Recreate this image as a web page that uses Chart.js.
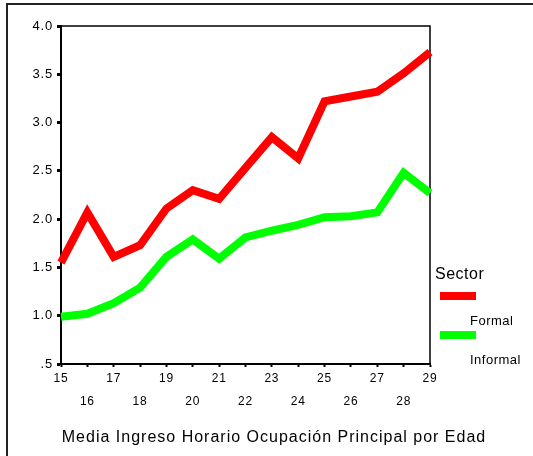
<!DOCTYPE html>
<html>
<head>
<meta charset="utf-8">
<script src="https://cdn.jsdelivr.net/npm/chart.js@4"></script>
<style>
    body { margin: 0; background: #fff; }
    #wrap { position: relative; width: 533px; height: 456px; overflow: hidden; }
    #frame { position: absolute; left: 6px; top: 3px; width: 600px; height: 500px; border-left: 2px solid #222; border-top: 2px solid #222; }
    canvas { position: absolute; left: 0; top: 0; }
</style>
</head>
<body>
<div id="wrap">
    <div id="frame"></div>
    <canvas id="myChart" width="533" height="456"></canvas>
</div>
<script>
const chart = document.getElementById("myChart");

// ages on the x axis
const ages = [15, 16, 17, 18, 19, 20, 21, 22, 23, 24, 25, 26, 27, 28, 29];

// mean hourly income for each sector
const formal = [1.55, 2.07, 1.61, 1.73, 2.11, 2.30, 2.21, 2.53, 2.85, 2.63, 3.22, 3.27, 3.32, 3.51, 3.73];
const informal = [0.99, 1.02, 1.13, 1.29, 1.61, 1.79, 1.59, 1.81, 1.88, 1.94, 2.02, 2.03, 2.07, 2.48, 2.27];

const sectorNames = ["Formal", "Informal"];
const sectorColors = ["#ff0000", "#00ff00"];

const legendTitle = "Sector";
const chartTitle = "Media Ingreso Horario Ocupación Principal por Edad";

const fontFamily = "'Liberation Sans', Arial, sans-serif";

// y axis labels, the lowest one has no leading zero
const yTickLabel = (value) => value === 0.5 ? ".5" : value.toFixed(1);

// odd ages on the first row, even ages pushed down to a second row
const xTickLabel = (age) => age % 2 === 1 ? String(age) : ["", String(age)];

// a bit of spacing between letters, the text looks too tight otherwise
const spacing = {
    id: "spacing",
    beforeUpdate: (c) => { c.ctx.letterSpacing = "0.8px"; },
    beforeDraw: (c) => { c.ctx.letterSpacing = "0.8px"; },
};

// box around the plot area (left and bottom come from the axes)
const plotBox = {
    id: "plotBox",
    beforeDatasetsDraw: (c) => {
        const { left, right, top, bottom } = c.chartArea;
        const ctx = c.ctx;
        ctx.save();
        ctx.strokeStyle = "#000";
        ctx.lineWidth = 1.5;
        ctx.beginPath();
        ctx.moveTo(left, top);
        ctx.lineTo(right, top);
        ctx.lineTo(right, bottom);
        ctx.stroke();
        ctx.restore();
    },
};

// legend on the right plus the title under the axis
const sideLegend = {
    id: "sideLegend",
    afterDraw: (c) => {
        const ctx = c.ctx;
        ctx.save();
        ctx.fillStyle = "#000";
        ctx.textBaseline = "middle";
        ctx.textAlign = "left";
        ctx.letterSpacing = "0.5px";
        ctx.font = "16px " + fontFamily;
        ctx.fillText(legendTitle, 435, 275);

        c.data.datasets.forEach((ds, i) => {
            const y = 292 + i * 39;
            ctx.fillStyle = ds.borderColor;
            ctx.fillRect(440, y, 36, 8);
            ctx.fillStyle = "#000";
            ctx.font = "13px " + fontFamily;
            ctx.fillText(ds.label, 470, y + 29);
        });

        ctx.textAlign = "center";
        ctx.letterSpacing = "1px";
        ctx.font = "16px " + fontFamily;
        ctx.fillText(chartTitle, 274, 438);
        ctx.restore();
    },
};

const datasets = [formal, informal].map((values, i) => ({
    label: sectorNames[i],
    data: values,
    borderColor: sectorColors[i],
    backgroundColor: sectorColors[i],
    borderWidth: 8,
    borderJoinStyle: "miter",
    pointRadius: 0,
    tension: 0,
    clip: false,
}));

const config = {
    type: "line",
    data: { labels: ages, datasets },
    options: {
        responsive: false,
        animation: false,
        layout: { padding: { top: 26, right: 103, bottom: 0, left: 0 } },
        plugins: {
            legend: { display: false },
            tooltip: { enabled: false },
        },
        scales: {
            x: {
                offset: false,
                afterFit: (scale) => { scale.height = 92; },
                border: { color: "#000", width: 2 },
                grid: { drawOnChartArea: false, drawTicks: true, tickLength: 3, tickWidth: 2, color: "#000" },
                ticks: {
                    color: "#000",
                    padding: 1,
                    autoSkip: false,
                    maxRotation: 0,
                    font: { family: fontFamily, size: 12, lineHeight: 1.85 },
                    callback: (v, i) => xTickLabel(ages[i]),
                },
            },
            y: {
                min: 0.5,
                max: 4.0,
                afterFit: (scale) => { scale.width = 61; },
                border: { color: "#000", width: 2 },
                grid: { drawOnChartArea: false, drawTicks: true, tickLength: 4, tickWidth: 3, color: "#000" },
                ticks: {
                    stepSize: 0.5,
                    color: "#000",
                    padding: 4,
                    font: { family: fontFamily, size: 13 },
                    callback: (v) => yTickLabel(v),
                },
            },
        },
    },
    plugins: [spacing, plotBox, sideLegend],
};

const myChart = new Chart(chart, config);
</script>
</body>
</html>
